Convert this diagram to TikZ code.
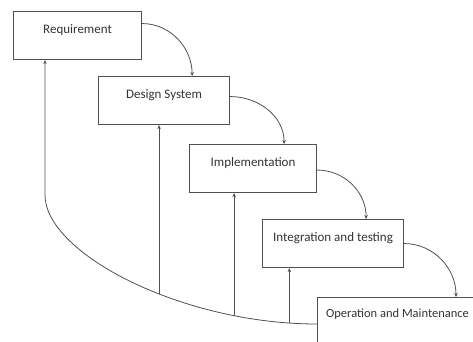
\documentclass[tikz,border=0pt]{standalone}
\usepackage{fontspec}
\setmainfont{Carlito}
\usetikzlibrary{arrows.meta}
\definecolor{linegray}{HTML}{505050}
\definecolor{textgray}{HTML}{333333}

\begin{document}
\begin{tikzpicture}[x=1pt,y=-1pt,
		phase/.style={draw=linegray,line width=1.1pt,anchor=north west,minimum height=48pt,
			inner ysep=4pt,text height=18pt,text depth=22pt,text=textgray,
			font=\fontsize{13}{15}\selectfont},
		flow/.style={draw=linegray,line width=0.8pt,-{Stealth[length=4pt,width=3.5pt]}}]
		\useasboundingbox (0,0) rectangle (473,342);
		\clip (0,0) rectangle (473,342);
		\node (req) at (13,11)[phase,minimum width=128pt]{Requirement} ;
		\node (des) at (98,76)[phase,minimum width=131pt]{Design System} ;
		\node (imp) at (189,144)[phase,minimum width=127pt]{Implementation} ;
		\node (int) at (262,219)[phase,minimum width=141pt]{Integration and testing} ;
		\node (op) at (317,297)[phase,minimum width=160pt,text height=16pt,text depth=36pt,
			font=\fontsize{12.5}{15}\selectfont]{Operation and Maintenance} ;
		% forward steps
		\draw[flow] ([yshift=12pt]req.east) to[out=0,in=90] ([xshift=-38pt]des.north east);
		\draw[flow] ([yshift=4pt]des.east) to[out=0,in=90] ([xshift=-33pt]imp.north east);
		\draw[flow] ([yshift=-1.5pt]imp.east) to[out=0,in=90] ([xshift=-38pt]int.north east);
		\draw[flow] (int.east) to[out=0,in=90] ([xshift=139pt]op.north west);
		% feedback
		\draw[flow] ([yshift=-27pt]op.north west) .. controls (181,324) and (45,253) .. coordinate[pos=0.068] (back3) coordinate[pos=0.206] (back2) coordinate[pos=0.41] (back1) (45,195) -- ([xshift=32pt]req.south west);
		\draw[flow] (back1) -- (back1 |- des.south);
		\draw[flow] (back2) -- (back2 |- imp.south);
		\draw[flow] (back3) -- (back3 |- int.south);
	\end{tikzpicture}
\end{document}
